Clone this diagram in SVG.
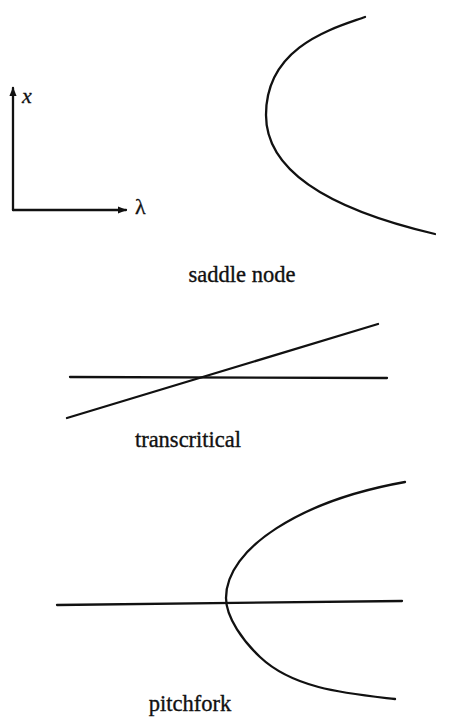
<svg xmlns="http://www.w3.org/2000/svg" width="451" height="719" viewBox="0 0 451 719">
<style>
.c{fill:none;stroke:#111;stroke-width:2.3;stroke-linecap:round;stroke-linejoin:round}
.t{font-family:"Liberation Serif","DejaVu Serif",serif;font-size:22.5px;fill:#111;stroke:#111;stroke-width:0.35}
.v{font-family:"Liberation Serif","DejaVu Serif",serif;font-size:22px;fill:#111;stroke:#111;stroke-width:0.3}
</style>
<defs>
<marker id="ah" viewBox="0 0 10 10" refX="9" refY="5" markerWidth="4" markerHeight="4" orient="auto" markerUnits="strokeWidth">
<path d="M0,1 L10,5 L0,9 Z" fill="#111"/>
</marker>
</defs>
<rect width="451" height="719" fill="#fff"/>
<g id="axes">
<line class="c" x1="13" y1="210" x2="13" y2="88" marker-end="url(#ah)"/>
<line class="c" x1="13" y1="210" x2="126" y2="210" marker-end="url(#ah)"/>
<text class="v" x="22" y="103" font-style="italic">x</text>
<text class="v" x="135" y="214">λ</text>
</g>
<g id="saddle-node">
<path class="c" d="M365,17 C336.4,27.5 266,45 266,115 C266,170 326.9,208.7 435,234"/>
<text class="t" x="242" y="282" text-anchor="middle">saddle node</text>
</g>
<g id="transcritical">
<line class="c" x1="70" y1="377" x2="387" y2="378"/>
<line class="c" x1="67" y1="418" x2="378" y2="324"/>
<text class="t" x="188" y="447" text-anchor="middle">transcritical</text>
</g>
<g id="pitchfork">
<line class="c" x1="57" y1="605" x2="402" y2="601"/>
<path class="c" d="M405,482 C301.5,500.4 226,548 226,598 C226,618 244,641.9 260,657 C294.1,689.3 348.3,693.6 395,699"/>
<text class="t" x="190" y="711" text-anchor="middle">pitchfork</text>
</g>
</svg>
